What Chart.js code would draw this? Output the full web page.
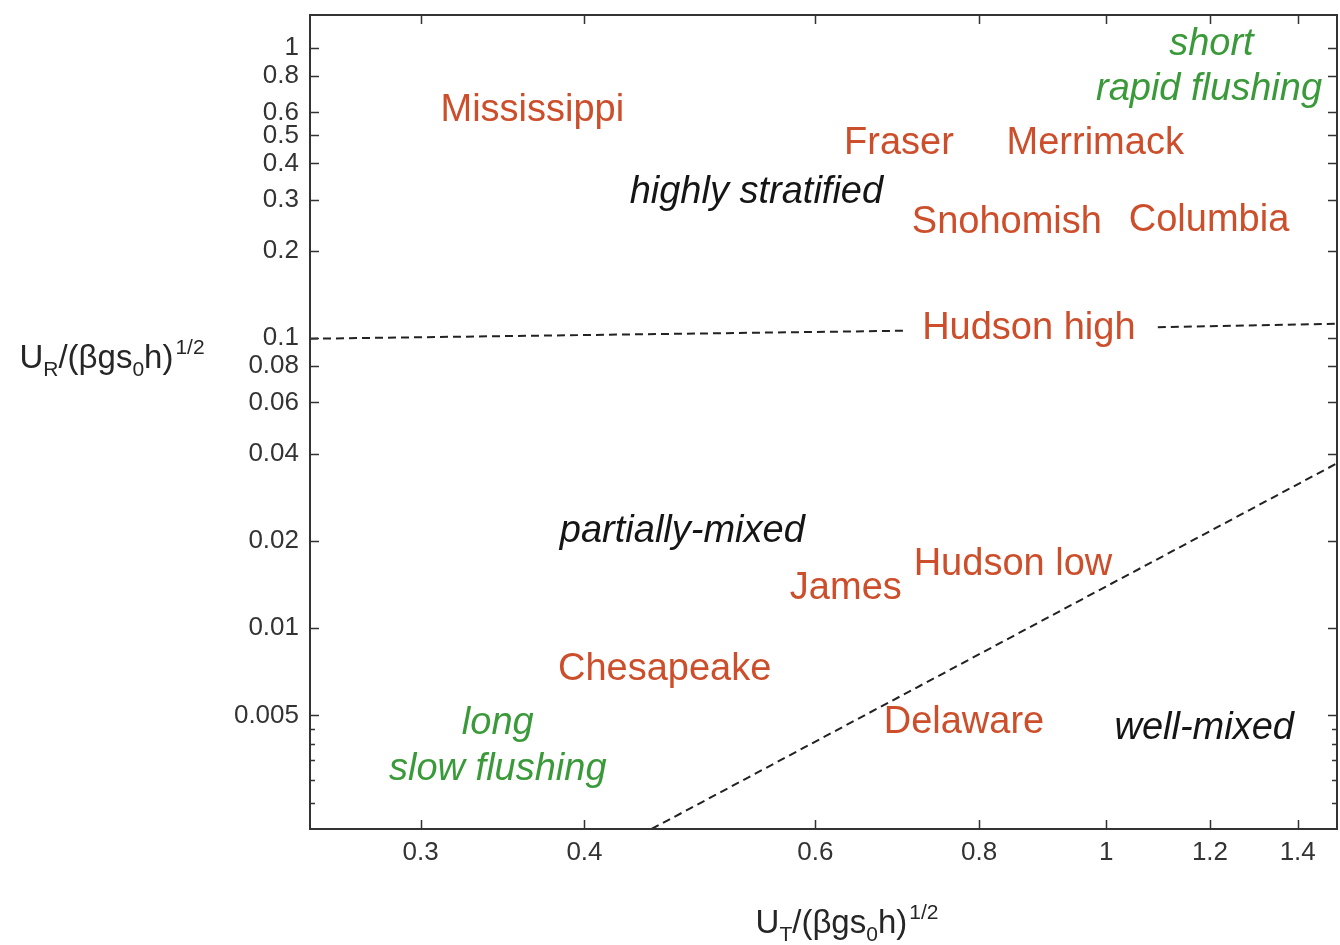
<!DOCTYPE html>
<html><head><meta charset="utf-8">
<script src="https://cdn.jsdelivr.net/npm/chart.js@4.4.1/dist/chart.umd.min.js"></script>
<style>html,body{margin:0;padding:0;background:#fff;}#wrap{width:1340px;height:945px;}</style>
</head><body><div id="wrap"><canvas id="c" width="1340" height="945"></canvas></div>
<script>
// ---- data ----
const xTickValues = [0.3, 0.4, 0.6, 0.8, 1, 1.2, 1.4];
const yTickValues = [0.005, 0.01, 0.02, 0.04, 0.06, 0.08, 0.1, 0.2, 0.3, 0.4, 0.5, 0.6, 0.8, 1];
const yMinorTickValues = [0.0025, 0.003, 0.0035, 0.004, 0.0045];

const stratBoundaryLeftX = [0.247, 0.70];
const stratBoundaryLeftY = [0.0995, 0.106];
const stratBoundaryRightX = [1.095, 1.5];
const stratBoundaryRightY = [0.109, 0.112];
const mixedBoundaryX = [0.45, 1.5];
const mixedBoundaryY = [0.00203, 0.037];

const estuaryNames = ['Mississippi', 'Fraser', 'Merrimack', 'Snohomish', 'Columbia', 'Hudson high', 'Hudson low', 'James', 'Chesapeake', 'Delaware'];
const estuaryX = [0.365, 0.695, 0.981, 0.840, 1.198, 0.873, 0.849, 0.633, 0.4605, 0.779];
const estuaryY = [0.611, 0.470, 0.467, 0.251, 0.255, 0.108, 0.0166, 0.0137, 0.00722, 0.00474];

const regimeNames = ['highly stratified', 'partially-mixed', 'well-mixed'];
const regimeX = [0.541, 0.475, 1.188];
const regimeY = [0.319, 0.0216, 0.00452];

const flushingNames = ['short', 'rapid flushing', 'long', 'slow flushing'];
const flushingX = [1.203, 1.198, 0.3435, 0.3435];
const flushingY = [1.032, 0.722, 0.0047, 0.00327];

const xTitleParts = [['U', 'n'], ['T', 'sub'], ['/(βgs', 'n'], ['0', 'sub'], ['h)', 'n'], ['1/2', 'sup']];
const yTitleParts = [['U', 'n'], ['R', 'sub'], ['/(βgs', 'n'], ['0', 'sub'], ['h)', 'n'], ['1/2', 'sup']];

// ---- drawing ----
const FONT = '"Liberation Sans", Arial, Helvetica, sans-serif';
const pts = (xs, ys) => xs.map((x, i) => ({x: x, y: ys[i]}));
const lineStyle = {type: 'line', showLine: true, pointRadius: 0, borderColor: '#222', borderWidth: 2, borderDash: [8, 5], fill: false, tension: 0};

function drawRich(ctx, parts, cx, baseline, main, small) {
  const fontOf = s => (s === 'n' ? main : small) + 'px ' + FONT;
  let w = 0;
  parts.forEach(p => { ctx.font = fontOf(p[1]); w += ctx.measureText(p[0]).width + (p[1] === 'sup' ? 2 : 0); });
  let x = cx - w / 2;
  ctx.textAlign = 'left';
  ctx.textBaseline = 'alphabetic';
  parts.forEach(p => {
    ctx.font = fontOf(p[1]);
    let dy = p[1] === 'sub' ? 8 : (p[1] === 'sup' ? -14 : 0);
    if (p[1] === 'sup') x += 2;
    ctx.fillText(p[0], x, baseline + dy);
    x += ctx.measureText(p[0]).width;
  });
}

const overlay = {
  id: 'overlay',
  afterDatasetsDraw(chart) {
    const ctx = chart.ctx, xs = chart.scales.x, ys = chart.scales.y;
    ctx.save();
    ctx.textAlign = 'center';
    ctx.textBaseline = 'middle';
    ctx.font = '38px ' + FONT;
    ctx.fillStyle = '#cc4e2b';
    estuaryNames.forEach((t, i) => ctx.fillText(t, xs.getPixelForValue(estuaryX[i]), ys.getPixelForValue(estuaryY[i])));
    ctx.font = 'italic 38px ' + FONT;
    ctx.fillStyle = '#151515';
    regimeNames.forEach((t, i) => ctx.fillText(t, xs.getPixelForValue(regimeX[i]), ys.getPixelForValue(regimeY[i])));
    ctx.fillStyle = '#3a9a3a';
    flushingNames.forEach((t, i) => ctx.fillText(t, xs.getPixelForValue(flushingX[i]), ys.getPixelForValue(flushingY[i])));
    ctx.restore();
  },
  afterDraw(chart) {
    const ctx = chart.ctx, a = chart.chartArea, xs = chart.scales.x, ys = chart.scales.y;
    ctx.save();
    ctx.strokeStyle = '#333';
    ctx.lineWidth = 2;
    ctx.strokeRect(a.left, a.top, a.right - a.left, a.bottom - a.top);
    ctx.lineWidth = 1.5;
    ctx.beginPath();
    xTickValues.forEach(v => {
      const p = Math.round(xs.getPixelForValue(v)) + 0.5;
      ctx.moveTo(p, a.bottom); ctx.lineTo(p, a.bottom - 9);
      ctx.moveTo(p, a.top); ctx.lineTo(p, a.top + 9);
    });
    yTickValues.forEach(v => {
      const p = Math.round(ys.getPixelForValue(v)) + 0.5;
      ctx.moveTo(a.left, p); ctx.lineTo(a.left + 9, p);
      ctx.moveTo(a.right, p); ctx.lineTo(a.right - 9, p);
    });
    yMinorTickValues.forEach(v => {
      const p = Math.round(ys.getPixelForValue(v)) + 0.5;
      ctx.moveTo(a.left, p); ctx.lineTo(a.left + 5, p);
      ctx.moveTo(a.right, p); ctx.lineTo(a.right - 5, p);
    });
    ctx.stroke();
    ctx.fillStyle = '#262626';
    drawRich(ctx, yTitleParts, 112, 368, 33, 21);
    drawRich(ctx, xTitleParts, 847, 933, 33, 21);
    ctx.restore();
  }
};

new Chart(document.getElementById('c'), {
  type: 'scatter',
  data: {
    datasets: [
      Object.assign({data: pts(stratBoundaryLeftX, stratBoundaryLeftY)}, lineStyle),
      Object.assign({data: pts(stratBoundaryRightX, stratBoundaryRightY)}, lineStyle),
      Object.assign({data: pts(mixedBoundaryX, mixedBoundaryY)}, lineStyle)
    ]
  },
  options: {
    responsive: false,
    animation: false,
    devicePixelRatio: 1,
    layout: {padding: {left: 0, top: 15, right: 3, bottom: 0}},
    plugins: {legend: {display: false}, tooltip: {enabled: false}},
    scales: {
      x: {
        type: 'logarithmic', min: 0.247, max: 1.5,
        afterBuildTicks: s => { s.ticks = xTickValues.map(v => ({value: v})); },
        afterFit: s => { s.height = 116; s.paddingLeft = 0; s.paddingRight = 0; },
        ticks: {callback: v => String(v), font: {size: 26, family: FONT}, color: '#333', padding: 8, maxRotation: 0, autoSkip: false},
        grid: {drawOnChartArea: false, drawTicks: false},
        border: {display: false}
      },
      y: {
        type: 'logarithmic', min: 0.00203, max: 1.3,
        afterBuildTicks: s => { s.ticks = yTickValues.map(v => ({value: v})); },
        afterFit: s => { s.width = 310; s.paddingTop = 0; s.paddingBottom = 0; },
        ticks: {callback: v => String(v), font: {size: 26, family: FONT}, color: '#333', padding: 11, autoSkip: false},
        grid: {drawOnChartArea: false, drawTicks: false},
        border: {display: false}
      }
    }
  },
  plugins: [overlay]
});
</script></body></html>
